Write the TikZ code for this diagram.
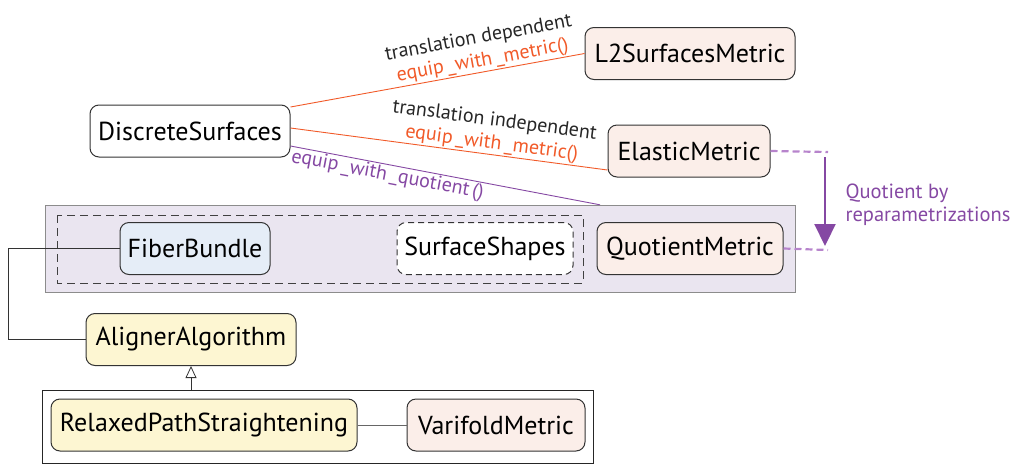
\documentclass[tikz,border=0pt]{standalone}
\usepackage{fontspec}
\setmainfont{PT Sans}
\usetikzlibrary{arrows.meta}

\definecolor{metricfill}{HTML}{FBEEE9}
\definecolor{bundlefill}{HTML}{E5EDF7}
\definecolor{alignfill}{HTML}{FDF6D2}
\definecolor{quotbg}{HTML}{EAE5F0}
\definecolor{eqorange}{HTML}{F15A29}
\definecolor{eqpurple}{HTML}{8548A3}
\definecolor{dashpurple}{HTML}{B784CC}

\tikzset{
	box/.style={draw=black!80, line width=1pt, rounded corners=9pt, minimum height=52pt, font=\fontsize{26}{30}\selectfont},
	edgelabel/.style={font=\fontsize{20}{23}\selectfont, align=center, inner sep=1pt},
}

\begin{document}
\begin{tikzpicture}[x=1pt,y=-1pt]
			\useasboundingbox (0,0) rectangle (1015,464);
			% background boxes
			\node [draw=black!45, fill=quotbg, minimum width=750pt, minimum height=87pt] (qbox) at (420,248.5) {};
			\draw [black!75, dashed, dash pattern=on 8pt off 5pt, line width=0.8pt] (57,215) rectangle (583,283);
			\node [draw=black!85, line width=0.8pt, minimum width=551pt, minimum height=73pt] (grp) at (317.5,426.5) {};
			% nodes
			\node [box, fill=white, minimum width=200pt] (ds) at (190,131) {DiscreteSurfaces};
			\node [box, fill=metricfill, minimum width=210pt] (l2) at (690,53.5) {L2SurfacesMetric};
			\node [box, fill=metricfill, minimum width=162pt] (el) at (689,151) {ElasticMetric};
			\node [box, fill=bundlefill, minimum width=150pt] (fb) at (195,248.5) {FiberBundle};
			\node [box, fill=white, dashed, dash pattern=on 6pt off 4pt, minimum width=176pt] (ss) at (485,248.5) {SurfaceShapes};
			\node [box, fill=metricfill, minimum width=186pt] (qm) at (690,248.5) {QuotientMetric};
			\node [box, fill=alignfill, minimum width=210pt] (al) at (191,339.5) {AlignerAlgorithm};
			\node [box, fill=alignfill, minimum width=306pt] (rp) at (204,425) {RelaxedPathStraightening};
			\node [box, fill=metricfill, minimum width=178pt] (vm) at (496,425) {VarifoldMetric};
			% coordinates for the quotient arrow
			\coordinate (qt) at (828,152);
			\coordinate (qb) at (828,250);
			\coordinate (arrtop) at (825,157);
			\coordinate (arrbot) at (825,246);
			% equip lines
			\draw [eqorange, line width=0.9pt] ([yshift=24pt]ds.east) -- node [edgelabel, sloped, above, pos=0.66] {\textcolor{black!85}{translation dependent}\\equip\,\_with\,\_metric()} (l2.west);
			\draw [eqorange, line width=0.9pt] ([yshift=3pt]ds.east) -- node [edgelabel, sloped, above, pos=0.63] {\textcolor{black!85}{translation independent}\\equip\,\_with\,\_metric()} ([yshift=-19pt]el.west);
			\draw [eqpurple, line width=0.9pt] ([yshift=-15pt]ds.east) -- node [edgelabel, sloped, below, pos=0.32] {equip\,\_with\,\_quotient\,()} ([xshift=180pt]qbox.north);
			% quotient
			\draw [dashpurple, dashed, dash pattern=on 7pt off 4pt, line width=2.2pt] (el.east) -- (qt);
			\draw [dashpurple, dashed, dash pattern=on 7pt off 4pt, line width=2.2pt] (qm.east) -- (qb);
			\draw [eqpurple, line width=2.2pt, -{Triangle[length=22pt, width=21pt]}] (arrtop) -- (arrbot);
			\node [eqpurple, font=\fontsize{20.5}{23}\selectfont, align=left, anchor=west] (qlabel) at (842,205) {Quotient by\\reparametrizations};
			% other connectors
			\draw [black!80, line width=1pt] (fb.west) -- ++(-111,0) |- (al.west);
			\draw [black!80, line width=0.8pt, -{Triangle[open, length=12pt, width=11pt]}] (al.south |- grp.north) -- (al.south);
			\draw [black!60, line width=0.8pt] (rp.east) -- (vm.west);
		\end{tikzpicture}
\end{document}
